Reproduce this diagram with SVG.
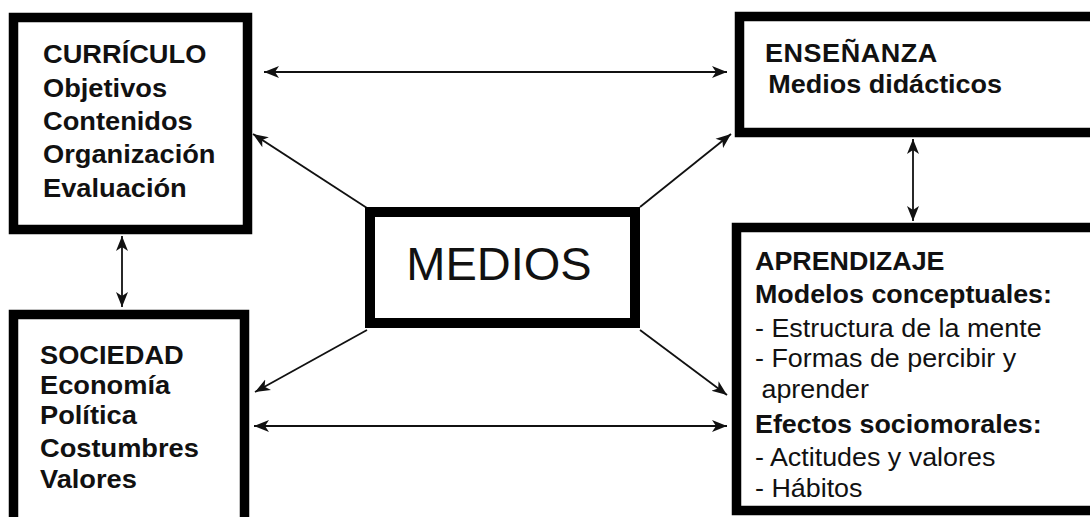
<svg xmlns="http://www.w3.org/2000/svg" width="1090" height="517" viewBox="0 0 1090 517">
<defs>
<style>
.box{fill:#fff;stroke:#000;stroke-width:9.5}
.b{font-family:"Liberation Sans",Arial,sans-serif;font-weight:bold;font-size:25px;fill:#111}
.r{font-family:"Liberation Sans",Arial,sans-serif;font-size:25px;fill:#111}
.big{font-family:"Liberation Sans",Arial,sans-serif;font-size:47px;fill:#111;text-anchor:middle}
.c{stroke:#111;stroke-width:1.8;fill:none}
</style>
<marker id="ah" markerUnits="userSpaceOnUse" markerWidth="17" markerHeight="13" refX="15" refY="6" orient="auto-start-reverse" viewBox="0 0 17 12">
<path d="M0,0 L15,6 L0,12 L4,6 z" fill="#111"/>
</marker>
</defs>
<rect width="1090" height="517" fill="#fff"/>

<g id="connectors">
<line class="c" x1="264" y1="72" x2="727" y2="72" marker-start="url(#ah)" marker-end="url(#ah)"/>
<line class="c" x1="254" y1="426" x2="727" y2="426" marker-start="url(#ah)" marker-end="url(#ah)"/>
<line class="c" x1="122" y1="236" x2="122" y2="307" marker-start="url(#ah)" marker-end="url(#ah)"/>
<line class="c" x1="913" y1="139" x2="913" y2="221" marker-start="url(#ah)" marker-end="url(#ah)"/>
<line class="c" x1="367" y1="208" x2="253" y2="134" marker-end="url(#ah)"/>
<line class="c" x1="640" y1="207" x2="731" y2="134" marker-end="url(#ah)"/>
<line class="c" x1="367" y1="330" x2="255" y2="392" marker-end="url(#ah)"/>
<line class="c" x1="640" y1="330" x2="727" y2="395" marker-end="url(#ah)"/>
</g>

<g id="curriculo">
<rect class="box" x="13.5" y="17.5" width="234" height="212"/>
<g transform="translate(43,0) scale(1.09,1)">
<text class="b" x="0" y="63">CURRÍCULO</text>
<text class="b" x="0" y="97">Objetivos</text>
<text class="b" x="0" y="130">Contenidos</text>
<text class="b" x="0" y="163">Organización</text>
<text class="b" x="0" y="197">Evaluación</text>
</g>
</g>

<g id="ensenanza">
<rect class="box" x="739.5" y="16.5" width="370" height="116"/>
<g transform="translate(765,0) scale(1.08,1)">
<text class="b" x="0" y="62" letter-spacing="0.5">ENSEÑANZA</text>
<text class="b" x="3" y="93">Medios didácticos</text>
</g>
</g>

<g id="medios">
<rect class="box" x="370" y="212" width="265" height="111" style="stroke-width:10"/>
<text class="big" x="499" y="280">MEDIOS</text>
</g>

<g id="sociedad">
<rect class="box" x="13.5" y="314.5" width="231" height="215"/>
<g transform="translate(40,0) scale(1.09,1)">
<text class="b" x="0" y="364">SOCIEDAD</text>
<text class="b" x="0" y="394">Economía</text>
<text class="b" x="0" y="424">Política</text>
<text class="b" x="0" y="457">Costumbres</text>
<text class="b" x="0" y="488">Valores</text>
</g>
</g>

<g id="aprendizaje">
<rect class="box" x="736.5" y="227.5" width="370" height="283"/>
<g transform="translate(755,0) scale(1.075,1)">
<text class="b" x="0" y="270">APRENDIZAJE</text>
<text class="b" x="0" y="303">Modelos conceptuales:</text>
<text class="r" x="0" y="337">- Estructura de la mente</text>
<text class="r" x="0" y="367">- Formas de percibir y</text>
<text class="r" x="6" y="398">aprender</text>
<text class="b" x="0" y="433">Efectos sociomorales:</text>
<text class="r" x="0" y="466">- Actitudes y valores</text>
<text class="r" x="0" y="497">- Hábitos</text>
</g>
</g>
</svg>
